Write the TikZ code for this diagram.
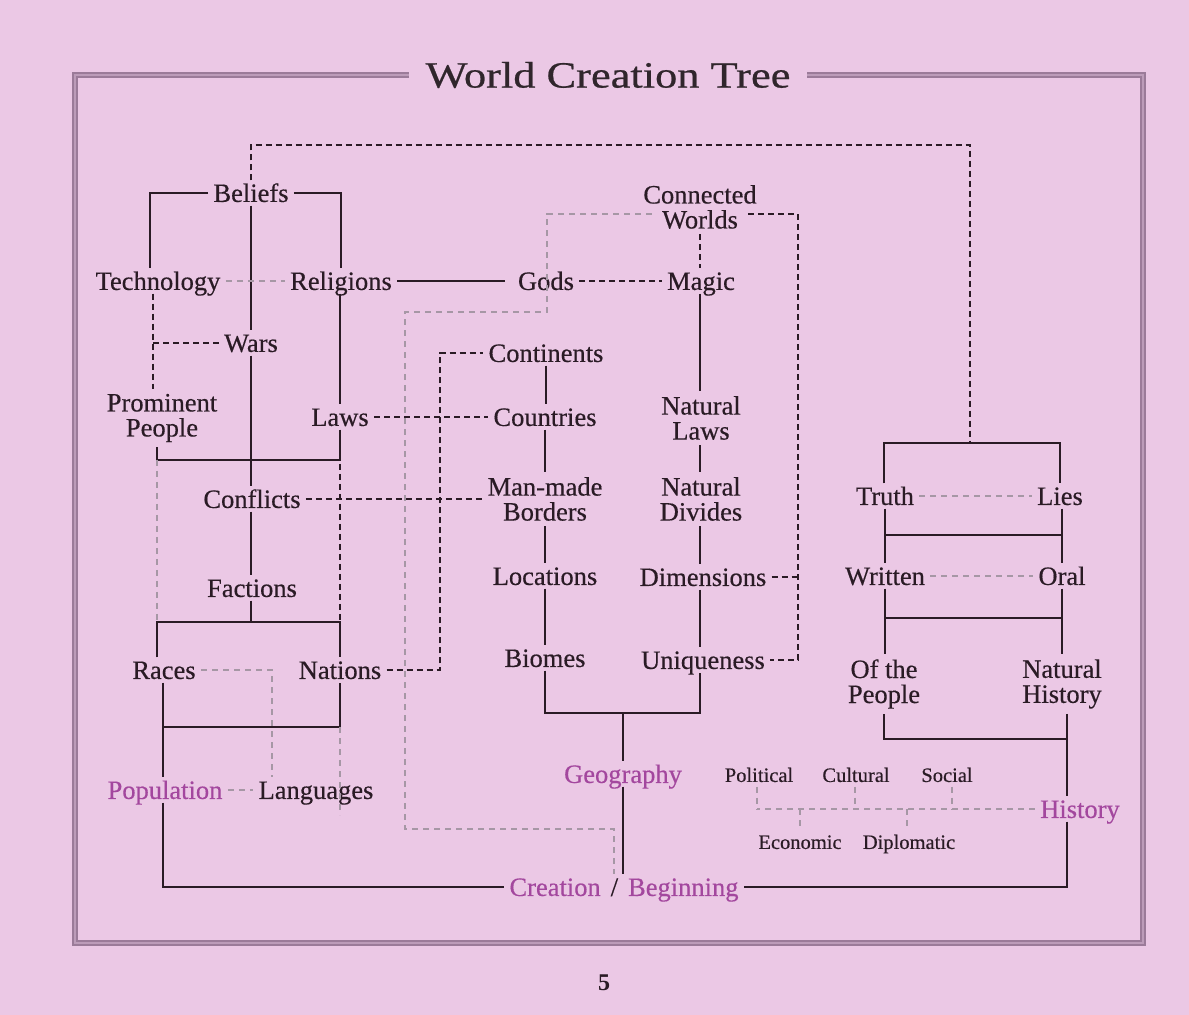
\documentclass[tikz,border=0pt]{standalone}
\usepackage{fontspec}
\setmainfont{Liberation Serif}
\newfontfamily\titlefont{Liberation Serif}[FakeStretch=1.2, FakeBold=0.6]
\newfontfamily\labfont{Liberation Serif}[FakeBold=0.4]
\usetikzlibrary{calc}
\definecolor{paper}{HTML}{EBC8E5}
\definecolor{ink}{HTML}{2A1B25}
\definecolor{titleink}{HTML}{30262C}
\definecolor{purp}{HTML}{A3479E}
\definecolor{lightd}{HTML}{A697A5}
\definecolor{frameout}{HTML}{9B7B99}
\definecolor{framein}{HTML}{BC9CB9}
\begin{document}
\begin{tikzpicture}[x=0.5pt,y=-0.5pt,
  lbl/.style={font=\labfont\fontsize{13.25}{12.5}\selectfont, text=ink, inner xsep=2.5pt, inner ysep=0pt, text height=2.3ex, text depth=.35ex},
  two/.style={font=\labfont\fontsize{13.25}{12.5}\selectfont, text=ink, align=center, inner sep=2.5pt},
  plbl/.style={lbl, text=purp},
  sm/.style={font=\labfont\fontsize{10.25}{12}\selectfont, text=ink, inner xsep=2pt, inner ysep=0.5pt, text height=2.3ex, text depth=.35ex},
  ln/.style={draw=ink, line width=1pt},
  dk/.style={draw=ink, line width=1pt, dash pattern=on 3pt off 2pt},
  lt/.style={draw=lightd, line width=0.7pt, dash pattern=on 3pt off 2.5pt},
  frame/.style={draw=frameout, line width=1pt, double=framein, double distance=1pt}]

% paper
\fill[paper] (0,0) rectangle (1189,1015);
\useasboundingbox (0,0) rectangle (1189,1015);

% title and frame
\node[font=\titlefont\fontsize{18.5}{20}\selectfont, text=titleink, inner xsep=8pt] (title) at (608,75) {World Creation Tree};
\draw[frame] (title.west) -- (75,75) -- (75,943) -- (1143,943) -- (1143,75) -- (title.east);
\node[font=\bfseries\fontsize{12}{14}\selectfont, text=ink] (pagenum) at (604,983) {5};

% left tree
\node[lbl] (beliefs) at (251,193) {Beliefs};
\node[lbl] (technology) at (158,281) {Technology};
\node[lbl] (religions) at (341,281) {Religions};
\node[lbl] (wars) at (251,343) {Wars};
\node[two] (prominent) at (162,418) {Prominent\\People};
\node[lbl] (laws) at (340,417) {Laws};
\node[lbl] (conflicts) at (252,499) {Conflicts};
\node[lbl] (factions) at (252,588) {Factions};
\node[lbl] (races) at (164,670) {Races};
\node[lbl] (nations) at (340,670) {Nations};
\node[plbl] (population) at (165,790) {Population};
\node[lbl] (languages) at (316,790) {Languages};

% middle trees
\node[lbl] (gods) at (546,281) {Gods};
\node[lbl] (magic) at (701,281) {Magic};
\node[two] (connected) at (700,207) {Connected\\Worlds};
\node[lbl] (continents) at (546,353) {Continents};
\node[lbl] (countries) at (545,417) {Countries};
\node[two] (borders) at (545,499) {Man-made\\Borders};
\node[two] (natlaws) at (701,418) {Natural\\Laws};
\node[two] (divides) at (701,499) {Natural\\Divides};
\node[lbl] (locations) at (545,576) {Locations};
\node[lbl] (dimensions) at (703,577) {Dimensions};
\node[lbl] (biomes) at (545,658) {Biomes};
\node[lbl] (uniqueness) at (703,660) {Uniqueness};
\node[plbl] (geography) at (623,774) {Geography};

% right tree
\node[lbl] (truth) at (885,496) {Truth};
\node[lbl] (lies) at (1060,496) {Lies};
\node[lbl] (written) at (885,576) {Written};
\node[lbl] (oral) at (1062,576) {Oral};
\node[two] (ofpeople) at (884,684) {Of the\\People};
\node[two] (nathist) at (1062,684) {Natural\\History};
\node[sm] (political) at (759,773) {Political};
\node[sm] (cultural) at (856,773) {Cultural};
\node[sm] (social) at (947,773) {Social};
\node[plbl] (history) at (1080,809) {History};
\node[sm] (economic) at (800,840) {Economic};
\node[sm] (diplomatic) at (909,840) {Diplomatic};

% root
\node[lbl] (creation) at (624,887) {\textcolor{purp}{Creation}\hspace{5pt}/\hspace{5pt}\textcolor{purp}{Beginning}};

% junction points
\coordinate (bA) at (340,460);
\coordinate (bAL) at (157,460);
\coordinate (bB) at (251,622);
\coordinate (bBL) at (157,622);
\coordinate (bBR) at (340,622);
\coordinate (bCL) at (163,727);
\coordinate (bCR) at (340,727);
\coordinate (gL) at (545,713);
\coordinate (gR) at (700,713);
\coordinate (gM) at (623,713);
\coordinate (mc) at (700,0);
\coordinate (tL) at (884,443);
\coordinate (tR) at (1060,443);
\coordinate (tM) at (970,443);
\coordinate (uL) at (885,535);
\coordinate (uR) at (1062,535);
\coordinate (vL) at (885,618);
\coordinate (vR) at (1062,618);
\coordinate (hx) at (1067,739);

% ---- solid connectors ----
\draw[ln] (beliefs.west) -| ([xshift=-4pt]technology.north);
\draw[ln] (beliefs.east) -| (religions.north);
\draw[ln] (beliefs.south) -- (wars.north);
\draw[ln] (wars.south) -- (conflicts.north -| wars.south);
\draw[ln] (religions.south -| laws.north) -- (laws.north);
\draw[ln] (laws.south) -- (bA) -- (bAL) -- (bAL |- prominent.south);
\draw[ln] (conflicts.south -| bB) -- (factions.north -| bB);
\draw[ln] (factions.south -| bB) -- (bB);
\draw[ln] (bBL |- races.north) -- (bBL) -- (bBR) -- (bBR |- nations.north);
\draw[ln] (bCL |- races.south) -- (bCL) -- (bCR) -- (bCR |- nations.south);
\draw[ln] (bCL) -- (bCL |- population.north);
\draw[ln] (bCL |- population.south) -- (bCL |- creation.west) -- (creation.west);
\draw[ln, shorten >=4pt] (religions.east) -- (gods.west);

\draw[ln] (continents.south) -- (continents.south |- countries.north);
\draw[ln] (countries.south) -- (countries.south |- borders.north);
\draw[ln] (borders.south) -- (borders.south |- locations.north);
\draw[ln] (locations.south) -- (locations.south |- biomes.north);
\draw[ln] (gL |- biomes.south) -- (gL) -- (gR) -- (gR |- uniqueness.south);
\draw[ln] (gM) -- (gM |- geography.north);
\draw[ln] (gM |- geography.south) -- (gM |- creation.north);

\draw[ln] (mc |- magic.south) -- (mc |- natlaws.north);
\draw[ln] (mc |- natlaws.south) -- (mc |- divides.north);
\draw[ln] (mc |- divides.south) -- (mc |- dimensions.north);
\draw[ln] (mc |- dimensions.south) -- (mc |- uniqueness.north);

\draw[ln] (tL |- truth.north) -- (tL) -- (tR) -- (tR |- lies.north);
\draw[ln] (uL |- truth.south) -- (uL |- written.north);
\draw[ln] (uR |- lies.south) -- (uR |- oral.north);
\draw[ln] (uL) -- (uR);
\draw[ln] (vL |- written.south) -- (vL |- ofpeople.north);
\draw[ln] (vR |- oral.south) -- (vR |- nathist.north);
\draw[ln] (vL) -- (vR);
\draw[ln] (tL |- ofpeople.south) -- (tL |- hx) -- (hx);
\draw[ln] (hx |- nathist.south) -- (hx |- history.north);
\draw[ln] (hx |- history.south) -- (hx |- creation.east) -- (creation.east);

% ---- dark dashed connectors ----
\draw[dk] (beliefs.north) -- (251,145) -- (970,145) -- (tM);
\draw[dk] (153,0 |- technology.south) -- (153,0 |- prominent.north);
\draw[dk] (153,0 |- wars.west) -- (wars.west);
\draw[dk] (laws.east) -- (laws.east -| countries.west);
\draw[dk] (conflicts.east) -- (conflicts.east -| borders.west);
\draw[dk] ([yshift=-2pt]bA) -- (bBR);
\draw[dk] (nations.east) -- (440,0 |- nations.east) -- (440,0 |- continents.west) -- (continents.west);
\draw[dk] (gods.east) -- (magic.west);
\draw[dk] (connected.south) -- (connected.south |- magic.north);
\draw[dk] ([xshift=-7pt,yshift=-3.5pt]connected.east) -- (798,214) -- (798,0 |- uniqueness.east) -- (uniqueness.east);
\draw[dk] (dimensions.east) -- (798,0 |- dimensions.east);

% ---- light dashed connectors ----
\draw[lt] (technology.east) -- (religions.west);
\draw[lt] (bAL) -- (bBL);
\draw[lt] (races.east) -- (272,0 |- races.east) -- (272,0 |- languages.north);
\draw[lt] (population.east) -- (languages.west);
\draw[lt] (bCR) -- (340,815);
\draw[lt] ([xshift=7pt,yshift=-3.5pt]connected.west) -- (547,214) -- (547,312) -- (405,312) -- (405,829) -- (614,829) -- (614,0 |- creation.north);
\draw[lt] (truth.east) -- (lies.west);
\draw[lt] (written.east) -- (oral.west);
\draw[lt] (history.west) -- (757,0 |- history.west);
\draw[lt] (757,0 |- political.south) -- (757,0 |- history.west);
\draw[lt] (855,0 |- cultural.south) -- (855,0 |- history.west);
\draw[lt] (952,0 |- social.south) -- (952,0 |- history.west);
\draw[lt] (800,0 |- history.west) -- (800,0 |- economic.north);
\draw[lt] (907,0 |- history.west) -- (907,0 |- diplomatic.north);

\end{tikzpicture}
\end{document}
